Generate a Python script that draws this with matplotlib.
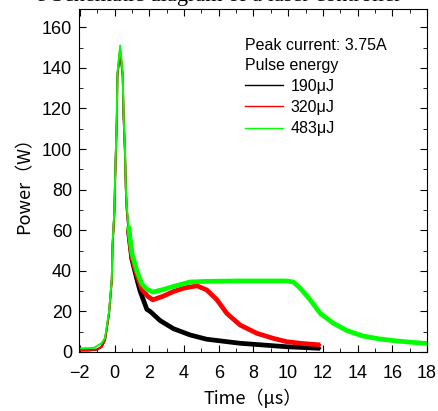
import matplotlib.pyplot as plt
from matplotlib.lines import Line2D
from matplotlib.ticker import MultipleLocator

# time (us) / power (W)
t_190 = [-2, -1.5, -1, -0.75, -0.55, -0.32, -0.16, -0.12, -0.01, 0.03, 0.13, 0.16, 0.32,
         0.47, 0.51, 0.6, 0.65, 0.7, 0.8, 0.99, 1.28, 1.47, 1.86, 2.05, 2.62, 3.39, 4.35,
         5.3, 7.23, 9.9, 11.85]
p_190 = [0.8, 0.8, 1.2, 2.5, 5.9, 19, 35.5, 52, 69, 85, 115, 136, 148,
         136, 118, 98, 80, 70, 60, 46, 36, 30, 21, 20, 15.5, 11.5, 8.4,
         6.3, 4.3, 2.6, 1.8]

t_320 = [-2, -1.5, -1, -0.75, -0.55, -0.32, -0.16, -0.12, -0.01, 0.03, 0.13, 0.16, 0.32,
         0.47, 0.51, 0.6, 0.65, 0.7, 0.8, 0.99, 1.28, 1.57, 1.9, 2.2, 2.8, 3.39, 4.0, 4.74,
         5.31, 5.9, 6.47, 7.23, 8.2, 9.15, 9.9, 10.8, 11.85]
p_320 = [0.8, 0.8, 1.2, 2.5, 5.9, 19, 35.5, 52, 69, 85, 115, 136, 149,
         136, 118, 98, 80, 71, 61, 47, 38, 31, 27.5, 25.7, 27.5, 29.8, 31.5, 32.6,
         30.6, 25.7, 19, 13.3, 9.2, 6.7, 5.1, 4.2, 3.5]

t_483 = [-2, -1.2, -0.74, -0.55, -0.32, -0.16, -0.12, -0.01, 0.03, 0.13, 0.16, 0.32,
         0.47, 0.51, 0.6, 0.65, 0.7, 0.8, 0.99, 1.28, 1.57, 1.85, 2.2, 2.8, 3.39, 4.35,
         5.3, 7.2, 9.9, 10.3, 10.7, 11.27, 11.85, 12.6, 13.4, 14.3, 15.3, 16.3, 17.8, 18]
p_483 = [1.8, 2, 4.4, 7, 20, 36, 53, 70, 86, 116, 137, 151,
         137, 119, 99, 81, 72, 62, 49, 40, 33.5, 31, 29.5, 30.8, 32.3, 34.5,
         34.8, 35, 35, 34.5, 31.4, 25.7, 19, 14.2, 10.5, 7.9, 6.4, 5.4, 4.3, 4.2]

labels = ['190\u03bcJ', '320\u03bcJ', '483\u03bcJ']
colors = ['black', '#ff0000', '#00ff00']

dpi = 100
fig = plt.figure(dpi=dpi, figsize=(438 / dpi, 411 / dpi))
plt.rcParams['font.family'] = ['Liberation Sans', 'DejaVu Sans']
ax = fig.add_axes([79 / 438, 1 - 352 / 411, 348 / 438, 343 / 411])

for t, p, c in zip([t_190, t_320, t_483], [p_190, p_320, p_483], colors):
    # thin through the fast peak, thick (noisy band) on the slow tail
    ax.plot(t, p, color=c, lw=1.4)
    k = next(i for i, v in enumerate(t) if v >= 0.8)
    ax.plot(t[k:], p[k:], color=c, lw=3.4, solid_capstyle='butt')

ax.set_xlim(-2.05, 18)
ax.set_ylim(0, 169)
ax.xaxis.set_major_locator(MultipleLocator(2))
ax.xaxis.set_minor_locator(MultipleLocator(1))
ax.yaxis.set_major_locator(MultipleLocator(20))
ax.yaxis.set_minor_locator(MultipleLocator(10))
ax.tick_params(which='both', direction='in', top=True, right=True, labelsize=13)
ax.tick_params(which='major', length=5)
ax.tick_params(which='minor', length=3)
ax.tick_params(axis='x', pad=9)
ax.tick_params(axis='y', pad=5)

cjk = ['Noto Sans CJK JP', 'DejaVu Sans']
ax.set_xlabel('Time\uff08\u03bcs\uff09', fontsize=13, family=cjk, labelpad=5)
ax.set_ylabel('Power\uff08W\uff09', fontsize=13, family=cjk, labelpad=6)

ax.text((245 - 79) / 348, (352 - 45) / 343, 'Peak current: 3.75A', transform=ax.transAxes,
        fontsize=11.5, va='center')
ax.text((245 - 79) / 348, (352 - 65) / 343, 'Pulse energy', transform=ax.transAxes,
        fontsize=11.5, va='center')
handles = [Line2D([], [], color=c, lw=1) for c in colors]
ax.legend(handles, labels, loc='upper left', bbox_to_anchor=((245 - 79) / 348, (352 - 79) / 343),
          frameon=False, fontsize=11.5, borderpad=0, borderaxespad=0, handlelength=2.4,
          handletextpad=0.45, labelspacing=0.38)

fig.text(0.5, 1 - 1 / 411, 'e Schematic diagram of a laser controller', ha='center',
         va='baseline', fontsize=16, family='Liberation Serif')

fig.savefig('out.png', dpi=dpi)
